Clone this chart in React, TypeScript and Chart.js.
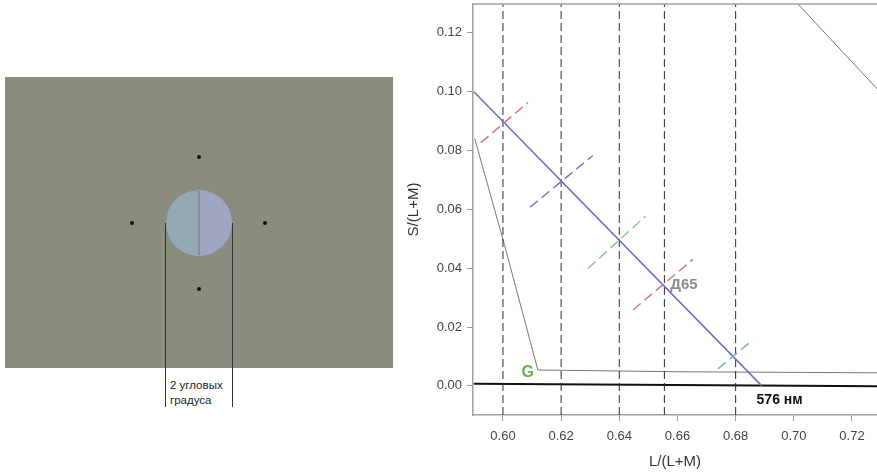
import React, { useEffect, useRef } from "react";
import { Chart, registerables } from "chart.js";
Chart.register(...registerables);

// ---- data ----
const xTickValues = [0.6, 0.62, 0.64, 0.66, 0.68, 0.7, 0.72];
const yTickValues = [0.0, 0.02, 0.04, 0.06, 0.08, 0.1, 0.12];
const xLimits = [0.5897, 0.7286];
const yLimits = [-0.0099, 0.1298];

const testLs = [0.6, 0.62, 0.64, 0.6555, 0.68];

const tritanLs = [0.59, 0.689];
const tritanSs = [0.1, 0.0];

const locusLs = [0.5903, 0.6005, 0.612, 0.66, 0.735];
const locusSs = [0.084, 0.048, 0.0054, 0.0048, 0.0044];

const purpleLs = [0.7, 0.735];
const purpleSs = [0.1313, 0.0942];

const baseLs = [0.59, 0.735];
const baseSs = [0.0007, -0.0002];

const crossStartLs = [0.5924, 0.6093, 0.6293, 0.6447, 0.6739];
const crossStartSs = [0.0827, 0.0607, 0.04, 0.0258, 0.0058];
const crossEndLs = [0.6086, 0.6309, 0.649, 0.6653, 0.6859];
const crossEndSs = [0.0963, 0.0783, 0.0576, 0.043, 0.0156];

const labelTexts = ["G", "Д65", "576 нм"];
const labelLs = [0.6085, 0.6575, 0.6872];
const labelSs = [0.0045, 0.0345, -0.0047];

// ---- styles ----
const crossColors = ["#e0708a", "#7b7bbf", "#8cc98c", "#cc7aa0", "#74b8b0"];
const labelColors = ["#6ab04c", "#8c8c8c", "#111111"];
const labelFonts = ["bold 16px 'Liberation Sans', Arial, sans-serif", "bold 15px 'Liberation Sans', Arial, sans-serif", "bold 14px 'Liberation Sans', Arial, sans-serif"];
const labelAligns: CanvasTextAlign[] = ["center", "left", "left"];
const FONT = "'Liberation Sans', Arial, sans-serif";

const pts = (xs: number[], ys: number[]) => xs.map((x, i) => ({ x, y: ys[i] }));

const overlayPlugin = {
  id: "overlay",
  afterDatasetsDraw(chart: any) {
    const { ctx, chartArea, scales } = chart;
    ctx.save();
    ctx.strokeStyle = "#a0a0a0";
    ctx.lineWidth = 1.5;
    ctx.beginPath();
    ctx.moveTo(chartArea.left, chartArea.top);
    ctx.lineTo(chartArea.right, chartArea.top);
    ctx.stroke();
    labelTexts.forEach((t, i) => {
      ctx.font = labelFonts[i];
      ctx.fillStyle = labelColors[i];
      ctx.textAlign = labelAligns[i];
      ctx.textBaseline = "middle";
      ctx.fillText(t, scales.x.getPixelForValue(labelLs[i]), scales.y.getPixelForValue(labelSs[i]));
    });
    ctx.restore();
  },
};

function ChartPanel() {
  const ref = useRef<HTMLCanvasElement>(null);
  useEffect(() => {
    if (!ref.current) return;
    const datasets: any[] = [];
    crossStartLs.forEach((_, i) => {
      datasets.push({
        data: [
          { x: crossStartLs[i], y: crossStartSs[i] },
          { x: crossEndLs[i], y: crossEndSs[i] },
        ],
        borderColor: crossColors[i],
        borderWidth: 1.5,
        borderDash: [10, 5],
      });
    });
    datasets.push({ data: pts(tritanLs, tritanSs), borderColor: "#6c6cbc", borderWidth: 1.5 });
    testLs.forEach((l) => {
      datasets.push({
        data: [
          { x: l, y: yLimits[0] },
          { x: l, y: yLimits[1] },
        ],
        borderColor: "#2a2a2a",
        borderWidth: 1,
        borderDash: [8, 4],
      });
    });
    datasets.push({ data: pts(locusLs, locusSs), borderColor: "#777777", borderWidth: 1 });
    datasets.push({ data: pts(purpleLs, purpleSs), borderColor: "#777777", borderWidth: 1 });
    datasets.push({ data: pts(baseLs, baseSs), borderColor: "#111111", borderWidth: 2 });
    datasets.forEach((d) => {
      d.showLine = true;
      d.pointRadius = 0;
      d.pointHoverRadius = 0;
      d.fill = false;
      d.tension = 0;
    });

    const chart = new Chart(ref.current, {
      type: "scatter",
      data: { datasets },
      plugins: [overlayPlugin],
      options: {
        animation: false,
        responsive: false,
        events: [],
        layout: { padding: { top: 4, right: 0, left: 0, bottom: 0 } },
        plugins: { legend: { display: false }, tooltip: { enabled: false } },
        scales: {
          x: {
            type: "linear",
            min: xLimits[0],
            max: xLimits[1],
            afterBuildTicks: (s: any) => {
              s.ticks = xTickValues.map((v) => ({ value: v }));
            },
            afterFit: (s: any) => {
              s.height = 58;
              s.paddingLeft = 0;
              s.paddingRight = 0;
            },
            grid: { drawOnChartArea: false, drawTicks: true, tickLength: 6, color: "#999999", lineWidth: 1 },
            border: { display: true, color: "#a0a0a0", width: 1.5 },
            ticks: {
              color: "#444444",
              font: { family: FONT, size: 13 },
              padding: 8,
              maxRotation: 0,
              autoSkip: false,
              callback: (v: any) => Number(v).toFixed(2),
            },
            title: {
              display: true,
              text: "L/(L+M)",
              color: "#333333",
              font: { family: FONT, size: 15 },
              padding: { top: 0, bottom: 2 },
            },
          },
          y: {
            type: "linear",
            min: yLimits[0],
            max: yLimits[1],
            afterBuildTicks: (s: any) => {
              s.ticks = yTickValues.map((v) => ({ value: v }));
            },
            afterFit: (s: any) => {
              s.width = 83;
              s.paddingTop = 0;
              s.paddingBottom = 0;
            },
            grid: { drawOnChartArea: false, drawTicks: true, tickLength: 6, color: "#999999", lineWidth: 1 },
            border: { display: true, color: "#a0a0a0", width: 1.5 },
            ticks: {
              color: "#444444",
              font: { family: FONT, size: 13 },
              padding: 5,
              autoSkip: false,
              callback: (v: any) => Number(v).toFixed(2),
            },
            title: {
              display: true,
              text: "S/(L+M)",
              color: "#333333",
              font: { family: FONT, size: 15 },
              padding: { top: 15, bottom: 0 },
            },
          },
        },
      } as any,
    });
    return () => chart.destroy();
  }, []);
  return <canvas ref={ref} width={487} height={473} style={{ display: "block", width: 487, height: 473 }} />;
}

function StimulusPanel() {
  const cx = 199;
  const cy = 223;
  const r = 33;
  const dots = [
    [cx, 157],
    [132, cy],
    [265, cy],
    [cx, 289],
  ];
  return (
    <svg width={400} height={473} style={{ position: "absolute", left: 0, top: 0 }}>
      <rect x={5} y={77} width={388} height={291} fill="#8a8c80" />
      <path d={`M ${cx} ${cy - r} A ${r} ${r} 0 0 0 ${cx} ${cy + r} Z`} fill="#93a9b3" />
      <path d={`M ${cx} ${cy - r} A ${r} ${r} 0 0 1 ${cx} ${cy + r} Z`} fill="#a2a5c1" />
      <line x1={cx} y1={cy - r + 1} x2={cx} y2={cy + r - 1} stroke="#7f9097" strokeWidth={2} />
      {dots.map((d, i) => (
        <circle key={i} cx={d[0]} cy={d[1]} r={2} fill="#111" />
      ))}
      <line x1={165.5} y1={223} x2={165.5} y2={407} stroke="#333" strokeWidth={1} />
      <line x1={232.5} y1={223} x2={232.5} y2={407} stroke="#333" strokeWidth={1} />
      <text x={170} y={389} fontFamily={FONT} fontSize={11.5} fill="#222">
        2 угловых
      </text>
      <text x={170} y={404} fontFamily={FONT} fontSize={11.5} fill="#222">
        градуса
      </text>
    </svg>
  );
}

export default function App() {
  return (
    <div style={{ position: "fixed", left: 0, top: 0, width: 877, height: 473, background: "#fff", overflow: "hidden" }}>
      <StimulusPanel />
      <div style={{ position: "absolute", left: 390, top: 0, width: 487, height: 473 }}>
        <ChartPanel />
      </div>
    </div>
  );
}
